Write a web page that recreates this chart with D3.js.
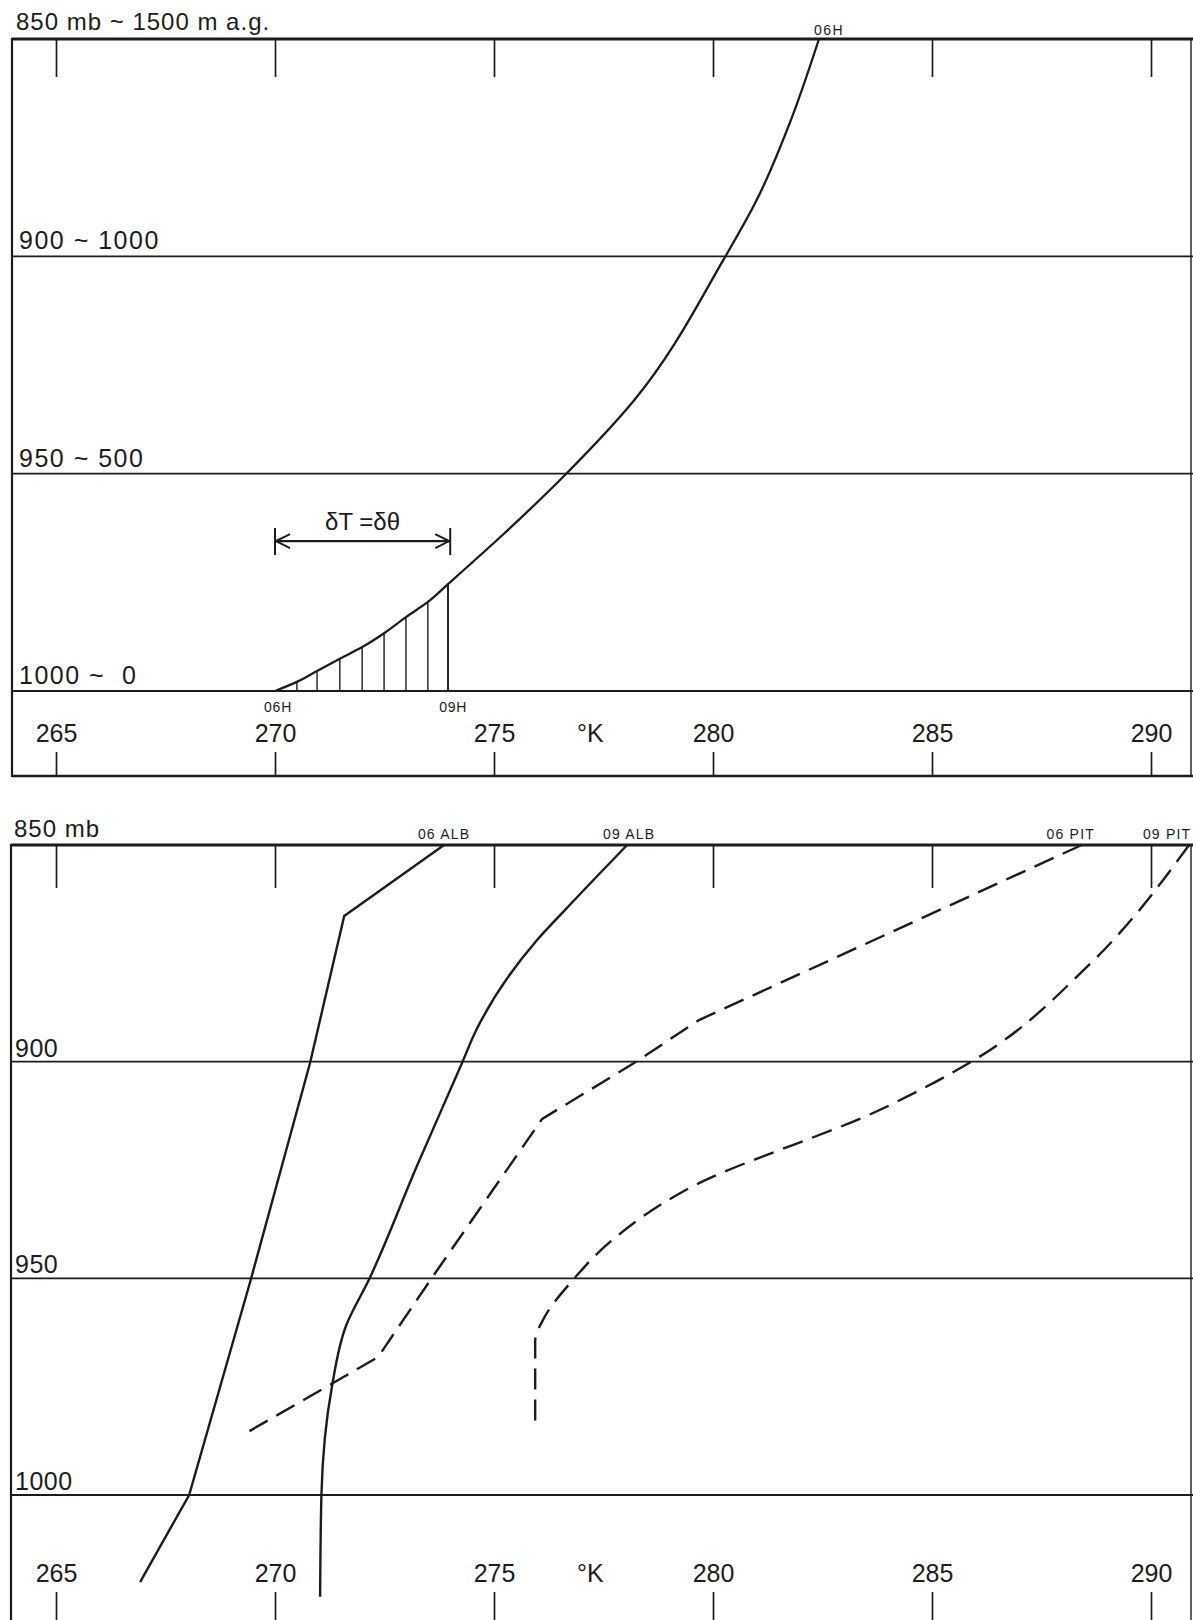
<!DOCTYPE html>
<html>
<head>
<meta charset="utf-8">
<script src="https://cdn.jsdelivr.net/npm/d3@7"></script>
<style>
  body { margin: 0; background: #fff; }
  svg { display: block; }
  text { font-family: "Liberation Sans", Arial, sans-serif; fill: #1c1c1c; white-space: pre; }
</style>
</head>
<body>
<svg id="chart" width="1193" height="1620"></svg>
<script>
// ---- temperature axis (K) ----
const tempTicks = [265, 270, 275, 280, 285, 290];

// ---- upper panel: idealised warming of the lowest layer between 06H and 09H ----
const upperTitle = "850 mb ~ 1500 m a.g.";
const upperLevels = [900, 950, 1000];
const upperLevelLabels = ["900 ~ 1000", "950 ~ 500", "1000 ~  0"];
const profileT = [270.0, 270.5, 270.96, 271.48, 271.99, 272.49, 272.99, 273.49, 273.95,
                  275.25, 276.62, 278.20, 280.25, 281.0, 281.78, 282.42];
const profileP = [1000, 997.9, 995.4, 992.6, 989.9, 986.7, 983.0, 979.5, 975.4,
                  963.6, 950.3, 933.1, 900.6, 887.0, 868.6, 850];
const heatingRange = [270, 274];     // 06H -> 09H surface temperature
const heatingLevel = 965.5;          // level of the δT = δθ arrow
const timeLabels = ["06H", "09H"];

// ---- lower panel: observed soundings, Albany and Pittsburgh ----
const lowerTitle = "850 mb";
const lowerLevels = [900, 950, 1000];
const lowerLevelLabels = ["900", "950", "1000"];
const alb06T = [273.86, 271.58, 270.80, 269.45, 268.04, 266.92];
const alb06P = [850, 866.4, 900.3, 950.2, 1000, 1020.1];
const alb09T = [278.04, 276.64, 275.96, 274.59, 274.27, 273.24, 272.15, 271.62, 271.30, 271.06, 271.03];
const alb09P = [850, 864.8, 872.2, 892.8, 900.3, 924.1, 950.2, 961, 975.0, 1000, 1023.5];
const pit06T = [288.42, 279.68, 278.17, 276.10, 273.56, 272.35, 269.34];
const pit06P = [850, 890.4, 900.5, 913.2, 950.2, 968.2, 985.7];
const pit09T = [290.87, 288.56, 286.03, 283.9, 279.38, 277.65, 276.8, 276.14, 275.94, 275.94];
const pit09P = [850, 877.9, 899.2, 910.7, 929.6, 941.6, 950.4, 959.2, 964.5, 984.1];
const soundingNames = ["06 ALB", "09 ALB", "06 PIT", "09 PIT"];

// ---------------------------------------------------------------------------
const W = 1193, H = 1620;
const ink = "#1c1c1c";
const svg = d3.select("#chart");
svg.append("rect").attr("width", W).attr("height", H).attr("fill", "#fff");

const zip = (T, P) => T.map((t, i) => ({ T: t, p: P[i] }));

function hline(g, y, x1, x2, w) {
  g.append("line").attr("x1", x1).attr("x2", x2).attr("y1", y).attr("y2", y)
    .attr("stroke", ink).attr("stroke-width", w);
}
function vline(g, x, y1, y2, w) {
  g.append("line").attr("x1", x).attr("x2", x).attr("y1", y1).attr("y2", y2)
    .attr("stroke", ink).attr("stroke-width", w);
}
function styleAxis(g) {
  g.select(".domain").remove();
  g.selectAll(".tick line").attr("stroke", ink).attr("stroke-width", 1.7);
  g.selectAll(".tick text").attr("fill", ink).attr("font-size", 25)
    .attr("font-family", "Liberation Sans, Arial, sans-serif");
}

// ======================= upper panel =======================
{
  const left = 12, right = 1191, top = 39, bottom = 776;
  const x = d3.scaleLinear().domain([265, 290]).range([56, 1151]);
  const y = d3.scaleLinear().domain([850, 1000]).range([39, 691]);
  const g = svg.append("g");

  hline(g, top, left, W, 3.2);
  hline(g, bottom, left, W, 2.6);
  vline(g, left, top - 1, bottom + 1, 2.2);
  vline(g, right, top, bottom, 1.4);
  upperLevels.forEach(l => hline(g, y(l), left, W, 1.8));

  g.append("text").attr("x", 16).attr("y", 30).attr("font-size", 24)
    .attr("letter-spacing", 1).text(upperTitle);
  upperLevels.forEach((l, i) => {
    g.append("text").attr("x", 19).attr("y", y(l) - 7).attr("font-size", 25)
      .attr("letter-spacing", 1.5).text(upperLevelLabels[i]);
  });

  // top tick marks
  g.append("g").attr("transform", `translate(0,${top})`)
    .call(d3.axisBottom(x).tickValues(tempTicks).tickSize(38).tickSizeOuter(0).tickFormat(""))
    .call(styleAxis);
  // bottom temperature axis
  g.append("g").attr("transform", `translate(0,${bottom})`)
    .call(d3.axisTop(x).tickValues(tempTicks).tickSize(24).tickPadding(10).tickSizeOuter(0).tickFormat(d3.format("d")))
    .call(styleAxis);
  g.append("text").attr("x", 577).attr("y", bottom - 34).attr("font-size", 25).text("°K");

  const prof = zip(profileT, profileP);
  // hatching of the heated layer
  const hatch = prof.filter(d => d.T > heatingRange[0] + 0.2 && d.T <= heatingRange[1]);
  hatch.forEach((d, i) => vline(g, x(d.T), y(1000), y(d.p), i === hatch.length - 1 ? 1.9 : 1.4));

  const line = d3.line().x(d => x(d.T)).y(d => y(d.p)).curve(d3.curveMonotoneY);
  g.append("path").datum(prof).attr("d", line)
    .attr("fill", "none").attr("stroke", ink).attr("stroke-width", 2.3);

  g.append("text").attr("x", x(profileT[profileT.length - 1]) + 10).attr("y", 35)
    .attr("font-size", 14).attr("letter-spacing", 1.5).attr("text-anchor", "middle").text("06H");
  heatingRange.forEach((t, i) => {
    g.append("text").attr("x", x(t) + 3).attr("y", y(1000) + 21)
      .attr("font-size", 14).attr("letter-spacing", 0.8).attr("text-anchor", "middle").text(timeLabels[i]);
  });

  // δT = δθ arrow
  const ay = y(heatingLevel), ax1 = x(heatingRange[0]), ax2 = x(heatingRange[1]);
  hline(g, ay, ax1, ax2, 2.2);
  vline(g, ax1, ay - 13, ay + 14, 2);
  vline(g, ax2, ay - 13, ay + 14, 2);
  g.append("path")
    .attr("d", `M${ax1 + 15},${ay - 7} L${ax1 + 1},${ay} L${ax1 + 15},${ay + 7}` +
               `M${ax2 - 15},${ay - 7} L${ax2 - 1},${ay} L${ax2 - 15},${ay + 7}`)
    .attr("fill", "none").attr("stroke", ink).attr("stroke-width", 2);
  g.append("text").attr("x", x((heatingRange[0] + heatingRange[1]) / 2)).attr("y", ay - 11)
    .attr("font-size", 24).attr("text-anchor", "middle").text("δT =δθ");
}

// ======================= lower panel =======================
{
  const left = 11, right = 1191, top = 845, bottom = 1622;
  const x = d3.scaleLinear().domain([265, 290]).range([56, 1151]);
  const y = d3.scaleLinear().domain([850, 1000]).range([845, 1495]);
  const g = svg.append("g");

  hline(g, top, left, W, 3.2);
  vline(g, left, top - 1, H, 2.2);
  vline(g, right, top, H, 1.4);
  lowerLevels.forEach(l => hline(g, y(l), left, W, 1.8));

  g.append("text").attr("x", 14).attr("y", 837).attr("font-size", 24)
    .attr("letter-spacing", 1).text(lowerTitle);
  lowerLevels.forEach((l, i) => {
    g.append("text").attr("x", 15).attr("y", y(l) - 5).attr("font-size", 25)
      .attr("letter-spacing", 0.5).text(lowerLevelLabels[i]);
  });

  g.append("g").attr("transform", `translate(0,${top})`)
    .call(d3.axisBottom(x).tickValues(tempTicks).tickSize(43).tickSizeOuter(0).tickFormat(""))
    .call(styleAxis);
  g.append("g").attr("transform", `translate(0,${bottom})`)
    .call(d3.axisTop(x).tickValues(tempTicks).tickSize(30).tickPadding(10).tickSizeOuter(0).tickFormat(d3.format("d")))
    .call(styleAxis);
  g.append("text").attr("x", 577).attr("y", 1582).attr("font-size", 25).text("°K");

  const series = [
    { data: zip(alb06T, alb06P), curve: d3.curveLinear, dash: null, dx: 0 },
    { data: zip(alb09T, alb09P), curve: d3.curveMonotoneY, dash: null, dx: 2 },
    { data: zip(pit06T, pit06P), curve: d3.curveLinear, dash: "21,10", dx: -11 },
    { data: zip(pit09T, pit09P), curve: d3.curveMonotoneY, dash: "21,10", dx: -22 }
  ];
  series.forEach((s, i) => {
    const line = d3.line().x(d => x(d.T)).y(d => y(d.p)).curve(s.curve);
    g.append("path").datum(s.data).attr("d", line)
      .attr("fill", "none").attr("stroke", ink).attr("stroke-width", 2.4)
      .attr("stroke-dasharray", s.dash);
    g.append("text").attr("x", x(s.data[0].T) + s.dx).attr("y", 839)
      .attr("font-size", 14).attr("letter-spacing", 1.2).attr("text-anchor", "middle")
      .text(soundingNames[i]);
  });
}
</script>
</body>
</html>
